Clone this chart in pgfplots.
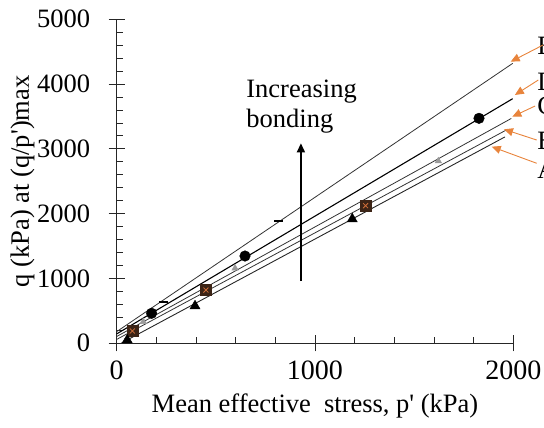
\documentclass[border=0pt]{standalone}
\usepackage{pgfplots}
\pgfplotsset{compat=1.18}
\usepackage{fontspec}
\setmainfont{Liberation Serif}
\usetikzlibrary{arrows.meta}
\definecolor{arroworange}{HTML}{E8843C}
\definecolor{sqbrown}{HTML}{3C2416}
\definecolor{sqx}{HTML}{D2703A}
\definecolor{tgray}{HTML}{9A9A9A}

\begin{document}
\begin{tikzpicture}
\useasboundingbox (-116.7pt,-84.7pt) rectangle (427.3pt,343.3pt);
\clip (-116.7pt,-84.7pt) rectangle (427.3pt,343.3pt);
\begin{axis}[
  at={(0pt,0pt)}, anchor=origin,
  scale only axis, width=396.6pt, height=324pt,
  xmin=0, xmax=2000, ymin=0, ymax=5000,
  axis lines=left, axis line style={-, line width=1pt, black!85},
  xtick={0,1000,2000}, ytick={0,1000,...,5000},
  minor x tick num=4, minor y tick num=4,
  tick align=center, major tick length=16pt, minor tick length=6pt,
  minor x tick style={yshift=3pt}, minor y tick style={xshift=3pt},
  tick style={black!85, line width=0.9pt},
  /pgf/number format/assume math mode=true,
  /pgf/number format/1000 sep={},
  xticklabel style={font=\fontsize{28}{33}\selectfont, yshift=-6.5pt},
  yticklabel style={font=\fontsize{26.5}{32}\selectfont, xshift=-15pt},
  label style={font=\fontsize{26.5}{32}\selectfont},
  xlabel={Mean effective\ \ stress, p\textquotesingle{} (kPa)},
  xlabel style={at={(axis description cs:0.5,-0.215)}, anchor=base, inner sep=0pt},
  ylabel={q (kPa) at (q/p\textquotesingle)max},
  ylabel style={at={(axis description cs:-0.268,0.5)}, anchor=north, inner sep=0pt},
  clip=false,
]

% fitted lines
\addplot[black!80, line width=0.8pt] coordinates {(0,180) (1997,4320)};
\addplot[black, line width=1.1pt] coordinates {(0,145) (1997,3775)};
\addplot[black!80, line width=0.8pt] coordinates {(0,105) (1990,3470)};
\addplot[black!80, line width=0.8pt] coordinates {(0,60) (1970,3300)};
\addplot[black!85, line width=0.9pt] coordinates {(22,0) (1958,3185)};

% E
\addplot[only marks, mark=-, mark size=4.5pt, line width=2pt, black] coordinates {(235,640) (815,1885)};
% D
\addplot[only marks, mark=*, mark size=5.3pt, black] coordinates {(176,463) (647,1347) (1827,3472)};
% C
\addplot[only marks, mark=triangle*, mark size=3.8pt, tgray] coordinates {(134,333) (597,1157) (1622,2813)};
% B
\addplot[only marks, mark=square*, mark size=5.5pt, sqbrown] coordinates {(79,190) (450,822) (1255,2124)};
\addplot[only marks, mark=x, mark size=3.5pt, sqx, line width=0.8pt] coordinates {(79,190) (450,822) (1255,2124)};
% A
\addplot[only marks, mark=triangle*, mark size=5.8pt, black] coordinates {(53,51) (395,576) (1188,1918)};

% increasing bonding
\draw[black, line width=1.5pt, -{Triangle[length=9pt,width=8pt]}] (axis cs:929,961) -- (axis cs:929,3086);
\node[anchor=base west, inner sep=0pt, font=\fontsize{26.5}{32}\selectfont] at (axis cs:653,3800) {Increasing};
\node[anchor=base west, inner sep=0pt, font=\fontsize{26.5}{32}\selectfont] at (axis cs:653,3337) {bonding};

% labels at right
\node[anchor=west, inner sep=0pt, font=\fontsize{26.5}{32}\selectfont] at (axis cs:2120,4588) {E};
\node[anchor=west, inner sep=0pt, font=\fontsize{26.5}{32}\selectfont] at (axis cs:2120,4033) {D};
\node[anchor=west, inner sep=0pt, font=\fontsize{26.5}{32}\selectfont] at (axis cs:2120,3662) {C};
\node[anchor=west, inner sep=0pt, font=\fontsize{26.5}{32}\selectfont] at (axis cs:2120,3120) {B};
\node[anchor=west, inner sep=0pt, font=\fontsize{26.5}{32}\selectfont] at (axis cs:2120,2673) {A};
\draw[arroworange, line width=0.9pt, -{Triangle[length=9pt,width=8pt]}] (axis cs:2150,4603) -- (axis cs:1987,4346);
\draw[arroworange, line width=0.9pt, -{Triangle[length=9pt,width=8pt]}] (axis cs:2126,4063) -- (axis cs:2008,3832);
\draw[arroworange, line width=0.9pt, -{Triangle[length=9pt,width=8pt]}] (axis cs:2110,3662) -- (axis cs:1995,3497);
\draw[arroworange, line width=0.9pt, -{Triangle[length=9pt,width=8pt]}] (axis cs:2118,3137) -- (axis cs:1953,3302);
\draw[arroworange, line width=0.9pt, -{Triangle[length=9pt,width=8pt]}] (axis cs:2118,2778) -- (axis cs:1891,3034);
\end{axis}
\end{tikzpicture}
\end{document}
